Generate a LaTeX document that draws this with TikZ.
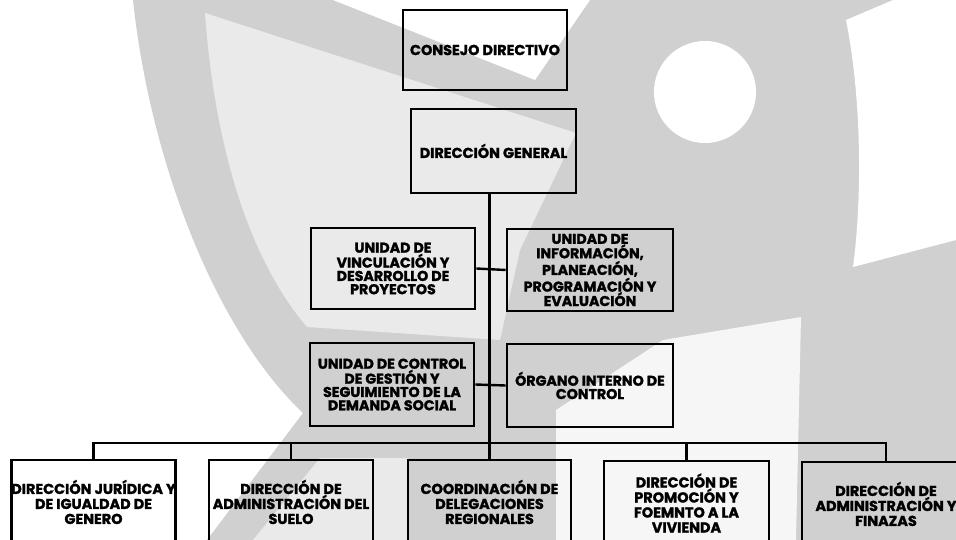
\documentclass[tikz,border=0pt]{standalone}
\usepackage{fontspec}
\setmainfont{Poppins}[BoldFeatures={FakeBold=1.6}]
\definecolor{wmgray}{HTML}{D0D0D0}
\definecolor{wmlight}{HTML}{EAEAEA}
\definecolor{wmwhite}{HTML}{F6F6F6}
\begin{document}
\begin{tikzpicture}[x=1pt,y=-1pt,
  orgbox/.style={draw=black,line width=2.6pt,inner sep=0pt,align=center,
    minimum width=164pt,minimum height=82pt},
  topfont/.style={font=\fontsize{14.4}{15}\selectfont\bfseries},
  midfont/.style={font=\fontsize{14.2}{13.3}\selectfont\bfseries},
  uifont/.style={font=\fontsize{14.2}{14.4}\selectfont\bfseries},
  lowfont/.style={font=\fontsize{14.4}{15}\selectfont\bfseries},
  link/.style={draw=black,line width=2.4pt}]
\useasboundingbox (0,0) rectangle (956,540);
\clip (0,0) rectangle (956,540);
% ---- watermark background ----
\fill[white] (0,0) rectangle (956,540);
\fill[wmgray] (133,0) .. controls (150,160) and (215,330) .. (303,413)
  -- (207,540) -- (956,540) -- (956,0) -- cycle;
\fill[wmlight] (205,13) -- (576,133) -- (520,250) -- (500,340) -- (307,327)
  .. controls (250,260) and (215,150) .. cycle;
\fill[white] (333,0) -- (590,0) -- (535,80) -- cycle;
\fill[wmlight] (253,540) -- (320,458) -- (408,458) -- (408,540) -- cycle;
\fill[wmwhite] (556,540) -- (556,410) -- (663,340) -- (801,317) -- (796,540) -- cycle;
\fill[white] (846,20) -- (893,0) -- (956,0) -- (956,240) -- (853,267)
  .. controls (862,200) and (862,100) .. cycle;
\fill[white] (705,92) circle (51);
% ---- boxes ----
\node[orgbox,topfont,minimum height=80pt] (cd) at (485,50) {CONSEJO DIRECTIVO};
\node[orgbox,topfont,minimum width=165pt,minimum height=84pt] (dg) at (493.5,151) {DIRECCIÓN GENERAL};
\node[orgbox,midfont,minimum height=81pt] (uv) at (393,268.5) {UNIDAD DE\\VINCULACIÓN Y\\DESARROLLO DE\\PROYECTOS};
\node[orgbox,uifont,minimum width=166pt] (ui) at (590,270) {UNIDAD DE\\INFORMACIÓN,\\PLANEACIÓN,\\PROGRAMACIÓN Y\\EVALUACIÓN};
\node[orgbox,midfont,minimum height=83pt] (uc) at (392,384.5) {UNIDAD DE CONTROL\\DE GESTIÓN Y\\SEGUIMIENTO DE LA\\DEMANDA SOCIAL};
\node[orgbox,midfont,minimum width=166pt,minimum height=83pt] (oi) at (590,385.5) {ÓRGANO INTERNO DE\\CONTROL};
\node[orgbox,lowfont,minimum width=163pt,minimum height=84pt] (b1) at (93.5,502) {DIRECCIÓN JURÍDICA Y\\DE IGUALDAD DE\\GENERO};
\node[orgbox,lowfont,minimum height=84pt] (b2) at (291,502) {DIRECCIÓN DE\\ADMINISTRACIÓN DEL\\SUELO};
\node[orgbox,lowfont,minimum width=163pt,minimum height=84pt] (b3) at (489.5,502) {COORDINACIÓN DE\\DELEGACIONES\\REGIONALES};
\node[orgbox,lowfont,minimum width=165pt,minimum height=84pt] (b4) at (686.5,503) {DIRECCIÓN DE\\PROMOCIÓN Y\\FOEMNTO A LA\\VIVIENDA};
\node[orgbox,lowfont,minimum width=168pt,minimum height=84pt] (b5) at (886,504) {DIRECCIÓN DE\\ADMINISTRACIÓN Y\\FINAZAS};
% ---- connectors ----
\coordinate (bar) at (0,443);
\draw[link] (dg.south -| b3.north) -- (b3.north);
\draw[link] (uv.east) -- (ui.west);
\draw[link] (uc.east) -- (oi.west);
\draw[link] (b1.north) -- (b1.north |- bar) -- (b5.north |- bar) -- (b5.north);
\draw[link] (b2.north) -- (b2.north |- bar);
\draw[link] (b4.north) -- (b4.north |- bar);
\end{tikzpicture}
\end{document}
